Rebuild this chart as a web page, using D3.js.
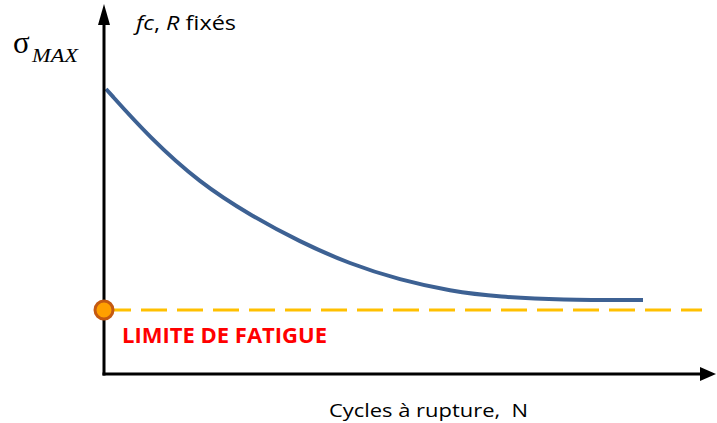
<!DOCTYPE html>
<html>
<head>
<meta charset="utf-8">
<script src="https://cdn.jsdelivr.net/npm/d3@7/dist/d3.min.js"></script>
<style>
  html, body { margin: 0; padding: 0; background: #fff; }
  svg { display: block; }
  text { white-space: pre; }
</style>
</head>
<body>
<svg id="chart" width="717" height="423"></svg>
<script>
// Wöhler (S-N) curve: maximum stress vs. cycles to failure, in arbitrary units
const cycles = [2, 46, 96, 146, 196, 246, 296, 346, 396, 456, 539];
const sigmaMax = [285, 236, 191, 159, 132, 110, 94, 83, 77, 74, 74];
const enduranceLimit = 64;          // stress level of the fatigue limit
const limitSpan = [1, 598];         // extent of the dashed limit line (cycles)
const xDomain = [0, 612];
const yDomain = [0, 370];

const svg = d3.select("#chart");
const x = d3.scaleLinear().domain(xDomain).range([104, 716]);
const y = d3.scaleLinear().domain(yDomain).range([374, 4]);

// S-N curve
const line = d3.line()
  .x((d, i) => x(cycles[i]))
  .y(d => y(d))
  .curve(d3.curveBasis);

svg.append("path")
  .datum(sigmaMax)
  .attr("d", line)
  .attr("fill", "none")
  .attr("stroke", "#3D6193")
  .attr("stroke-width", 4)
  .attr("stroke-linecap", "butt");

// fatigue limit (dashed)
svg.append("line")
  .attr("x1", x(limitSpan[0])).attr("x2", x(limitSpan[1]))
  .attr("y1", y(enduranceLimit)).attr("y2", y(enduranceLimit))
  .attr("stroke", "#FFC000")
  .attr("stroke-width", 3)
  .attr("stroke-dasharray", "26,10");

// axes with arrowheads
const x0 = x(0), y0 = y(0);
svg.append("line")
  .attr("x1", x0).attr("y1", y0 + 1.5)
  .attr("x2", x0).attr("y2", 20)
  .attr("stroke", "#000").attr("stroke-width", 3);
svg.append("path")
  .attr("d", `M${x0},4 L${x0 - 6},25 L${x0 + 6},25 Z`)
  .attr("fill", "#000");

svg.append("line")
  .attr("x1", x0 - 1.5).attr("y1", y0)
  .attr("x2", 704).attr("y2", y0)
  .attr("stroke", "#000").attr("stroke-width", 3);
svg.append("path")
  .attr("d", `M716,${y0} L700,${y0 - 7} L700,${y0 + 7} Z`)
  .attr("fill", "#000");

// marker at the fatigue limit on the stress axis
svg.append("circle")
  .attr("cx", x0).attr("cy", y(enduranceLimit))
  .attr("r", 9)
  .attr("fill", "#FFA000")
  .attr("stroke", "#C55A11")
  .attr("stroke-width", 3);

// labels
svg.append("text")
  .attr("x", 122).attr("y", 343)
  .attr("font-family", "'Open Sans', sans-serif")
  .attr("font-weight", "bold")
  .attr("font-size", 21)
  .attr("fill", "#FF0000")
  .attr("textLength", 205)
  .attr("lengthAdjust", "spacingAndGlyphs")
  .text("LIMITE DE FATIGUE");

svg.append("text")
  .attr("x", 329).attr("y", 417)
  .attr("font-family", "'Open Sans', sans-serif")
  .attr("font-size", 19)
  .attr("fill", "#000")
  .attr("textLength", 199)
  .attr("lengthAdjust", "spacingAndGlyphs")
  .text("Cycles à rupture,  N");

const note = svg.append("text")
  .attr("x", 136).attr("y", 30)
  .attr("font-family", "'Open Sans', sans-serif")
  .attr("font-size", 20)
  .attr("fill", "#000")
  .attr("textLength", 100)
  .attr("lengthAdjust", "spacingAndGlyphs");
note.append("tspan").attr("font-style", "italic").text("fc");
note.append("tspan").text(", ");
note.append("tspan").attr("font-style", "italic").text("R");
note.append("tspan").text(" fixés");

svg.append("text")
  .attr("x", 13).attr("y", 53)
  .attr("font-family", "'Liberation Serif', serif")
  .attr("font-size", 31)
  .attr("fill", "#000")
  .text("σ");
svg.append("text")
  .attr("x", 32).attr("y", 62)
  .attr("font-family", "'Liberation Serif', serif")
  .attr("font-style", "italic")
  .attr("font-size", 18)
  .attr("fill", "#000")
  .attr("textLength", 46)
  .attr("lengthAdjust", "spacingAndGlyphs")
  .text("MAX");
</script>
</body>
</html>
